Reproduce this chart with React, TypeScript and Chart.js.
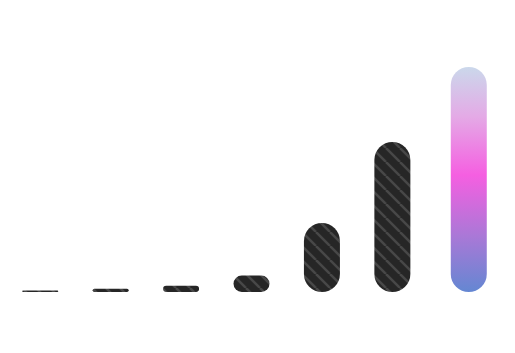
import React, { useEffect, useRef } from "react";
import { Chart, registerables } from "chart.js";

Chart.register(...registerables);

const labels = ["1", "2", "3", "4", "5", "6", "7"];
const stripedValues = [1, 2.2, 4.2, 11, 46, 100, null];
const gradientValues = [null, null, null, null, null, null, 150];
const yMax = 150;

function makeStripes(): CanvasPattern | string {
  const size = 14;
  const c = document.createElement("canvas");
  c.width = size;
  c.height = size;
  const x = c.getContext("2d");
  if (!x) return "#262626";
  x.fillStyle = "#262626";
  x.fillRect(0, 0, size, size);
  x.strokeStyle = "#484848";
  x.lineWidth = 2.5;
  for (const o of [-size, 0, size]) {
    x.beginPath();
    x.moveTo(o, 0);
    x.lineTo(o + size, size);
    x.stroke();
  }
  return x.createPattern(c, "repeat") || "#262626";
}

export default function App() {
  const ref = useRef<HTMLCanvasElement | null>(null);

  useEffect(() => {
    if (!ref.current) return;
    const stripes = makeStripes();
    const chart = new Chart(ref.current, {
      type: "bar",
      data: {
        labels,
        datasets: [
          {
            data: stripedValues,
            backgroundColor: stripes,
            borderRadius: 18,
            borderSkipped: false,
            categoryPercentage: 0.17,
            barPercentage: 10,
            maxBarThickness: 36,
          },
          {
            data: gradientValues,
            backgroundColor: (ctx: any) => {
              const { chart } = ctx;
              const { ctx: c, chartArea } = chart;
              if (!chartArea) return "#d35fe0";
              const g = c.createLinearGradient(0, chartArea.bottom, 0, chartArea.top);
              g.addColorStop(0, "rgb(100,135,210)");
              g.addColorStop(0.25, "rgb(170,120,215)");
              g.addColorStop(0.52, "rgb(245,95,225)");
              g.addColorStop(0.78, "rgb(228,170,230)");
              g.addColorStop(1, "rgb(203,216,235)");
              return g;
            },
            borderRadius: 18,
            borderSkipped: false,
            categoryPercentage: 0.17,
            barPercentage: 10,
            maxBarThickness: 36,
          },
        ],
      },
      options: {
        animation: false,
        responsive: true,
        maintainAspectRatio: false,
        layout: { padding: { top: 59, bottom: 53, left: 0, right: 6 } },
        plugins: { legend: { display: false }, tooltip: { enabled: false } },
        scales: {
          x: { display: false },
          y: { display: false, min: 0, max: yMax },
        },
      },
    });
    return () => chart.destroy();
  }, []);

  return (
    <div style={{ position: "relative", height: 337 }}>
      <canvas ref={ref} />
    </div>
  );
}
